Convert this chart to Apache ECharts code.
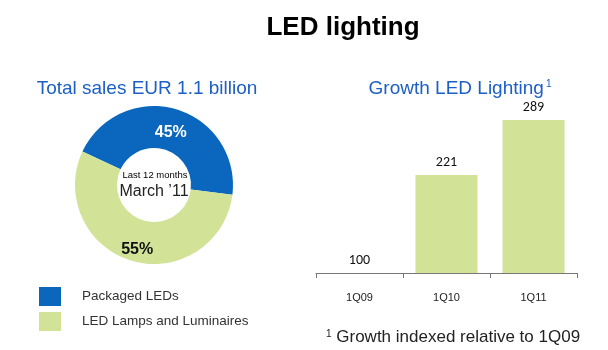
<!DOCTYPE html>
<html>
<head>
<meta charset="utf-8">
<script src="https://cdn.jsdelivr.net/npm/echarts@6/dist/echarts.min.js"></script>
<style>
  html, body { margin: 0; padding: 0; background: #fff; }
  #main { width: 608px; height: 350px; }
</style>
</head>
<body>
<div id="main"></div>
<script>
var segNames = ['Packaged LEDs', 'LED Lamps and Luminaires'];
var segShares = [45, 55];
var segColors = ['#0b67bd', '#d2e297'];

var quarters = ['1Q09', '1Q10', '1Q11'];
var growthIndex = [100, 221, 289];

var myChart = echarts.init(document.getElementById('main'));
var blue = '#1c5fc6';
var font = 'Arial, "Liberation Sans", sans-serif';

var option = {
    animation: false,
    backgroundColor: '#fff',
    title: [
        {text: 'LED lighting', left: 338, top: 10, textAlign: 'center',
         textStyle: {fontFamily: font, fontSize: 26, fontWeight: 'bold', color: '#000'}},
        {text: 'Total sales EUR 1.1 billion', left: 142, top: 74, textAlign: 'center',
         textStyle: {fontFamily: font, fontSize: 19, fontWeight: 'normal', color: blue}},
        {text: 'Growth LED Lighting{s|1}', left: 455, top: 74, textAlign: 'center',
         textStyle: {fontFamily: font, fontSize: 19, fontWeight: 'normal', color: blue,
             rich: {s: {fontSize: 10, verticalAlign: 'top', color: blue, padding: [0, 0, 9, 2]}}}},
        {text: 'Last 12 months', left: 150, top: 165, textAlign: 'center',
         textStyle: {fontFamily: font, fontSize: 9.5, fontWeight: 'normal', color: '#000'}},
        {text: 'March \u201911', left: 149, top: 179, textAlign: 'center',
         textStyle: {fontFamily: font, fontSize: 16, fontWeight: 'normal', color: '#222'}},
        {text: '{s|1} Growth indexed relative to 1Q09', left: 321, top: 324,
         textStyle: {fontFamily: font, fontSize: 17, fontWeight: 'normal', color: '#222',
             rich: {s: {fontSize: 10, verticalAlign: 'top', color: '#222', padding: [0, 0, 7, 0]}}}}
    ],
    legend: {
        orient: 'vertical', left: 34, top: 282, itemWidth: 22, itemHeight: 19, itemGap: 6,
        icon: 'rect', selectedMode: false,
        data: segNames,
        textStyle: {fontFamily: font, fontSize: 13.5, color: '#333', padding: [0, 0, 0, 16]}
    },
    grid: {left: 316, right: 31, top: 95, bottom: 77},
    xAxis: {
        type: 'category', data: quarters,
        axisLine: {lineStyle: {color: '#777', width: 1}},
        axisTick: {show: true, length: 5, lineStyle: {color: '#777'}},
        axisLabel: {fontFamily: font, fontSize: 11, color: '#222', margin: 19}
    },
    yAxis: {
        type: 'value', min: 100, max: 320, show: false, splitLine: {show: false}
    },
    series: [
        {
            type: 'pie',
            center: [154, 185],
            radius: [37, 79],
            startAngle: 155,
            clockwise: true,
            silent: true,
            data: segNames.map(function (n, i) {
                return {name: n, value: segShares[i], itemStyle: {color: segColors[i]},
                    label: {color: i === 0 ? '#fff' : '#111'}};
            }),
            label: {
                show: true, position: 'inside', formatter: '{c}%', offset: [0, 6],
                fontFamily: font, fontSize: 16, fontWeight: 'bold'
            },
            labelLine: {show: false}
        },
        {
            type: 'bar',
            data: growthIndex,
            barWidth: 62,
            itemStyle: {color: '#d2e297'},
            label: {
                show: true, position: 'top', distance: 6,
                fontFamily: 'Carlito, "Open Sans", sans-serif', fontSize: 14, color: '#111'
            }
        }
    ]
};
myChart.setOption(option);
</script>
</body>
</html>
